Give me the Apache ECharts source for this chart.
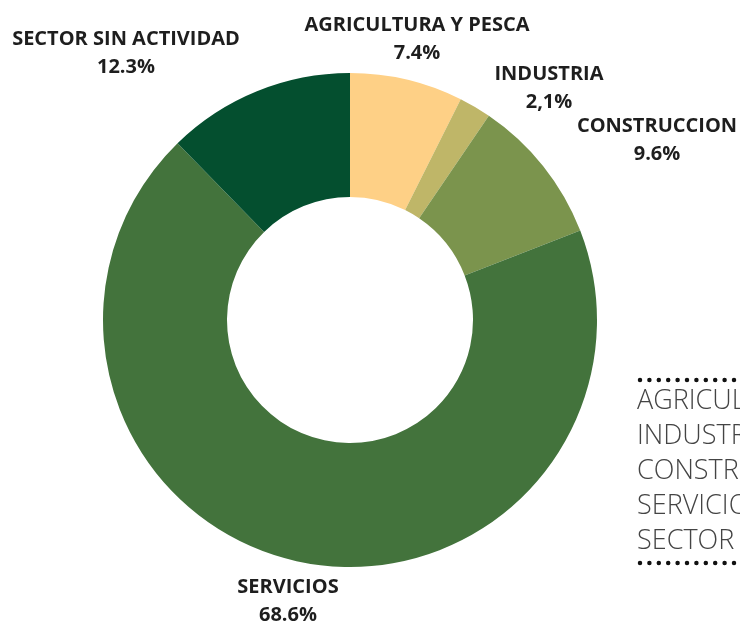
<!DOCTYPE html>
<html>
<head>
<meta charset="utf-8">
<script src="https://cdn.jsdelivr.net/npm/echarts@6/dist/echarts.min.js"></script>
<style>
  html, body { margin: 0; padding: 0; background: #fff; }
  #chart { width: 740px; height: 622px; }
</style>
</head>
<body>
<div id="chart"></div>
<script>
var sectors = ['AGRICULTURA Y PESCA', 'INDUSTRIA', 'CONSTRUCCION', 'SERVICIOS', 'SECTOR SIN ACTIVIDAD'];
var shares = [7.4, 2.1, 9.6, 68.6, 12.3];
var shareLabels = ['7.4%', '2,1%', '9.6%', '68.6%', '12.3%'];
var colors = ['#fed086', '#bfb668', '#7b944d', '#43733c', '#044f2f'];

// where each label block sits (centre, px) - placed by hand in the original
var labelSpots = [[417, 39], [549, 88], [657, 140], [288, 601], [126, 53]];

var myChart = echarts.init(document.getElementById('chart'));

var data = sectors.map(function (name, i) {
    return { name: name, value: shares[i], itemStyle: { color: colors[i] } };
});

myChart.setOption({
    animation: false,
    legend: {
        orient: 'vertical',
        left: 627,
        top: 383,
        icon: 'none',
        itemWidth: 0,
        itemHeight: 27,
        itemGap: 8,
        selectedMode: false,
        textStyle: {
            fontFamily: 'Open Sans',
            fontWeight: 300,
            fontSize: 27,
            lineHeight: 27,
            color: '#444'
        },
        data: sectors
    },
    graphic: [
        {
            type: 'line',
            shape: { x1: 640, y1: 380, x2: 745, y2: 380 },
            style: { stroke: '#111', lineWidth: 4.5, lineCap: 'round', lineDash: [0, 9.4] }
        },
        {
            type: 'line',
            shape: { x1: 640, y1: 563, x2: 745, y2: 563 },
            style: { stroke: '#111', lineWidth: 4.5, lineCap: 'round', lineDash: [0, 9.4] }
        }
    ],
    series: [{
        type: 'pie',
        center: [350, 320],
        radius: [123, 247],
        startAngle: 90,
        clockwise: true,
        avoidLabelOverlap: false,
        emphasis: { disabled: true },
        label: {
            show: true,
            position: 'outside',
            fontFamily: 'Open Sans',
            fontWeight: 'bold',
            fontSize: 20,
            lineHeight: 28,
            color: '#1e1e1e',
            align: 'center',
            formatter: function (p) {
                return p.name + '\n' + shareLabels[p.dataIndex];
            }
        },
        labelLine: { show: false },
        labelLayout: function (p) {
            var s = labelSpots[p.dataIndex];
            return { x: s[0], y: s[1], align: 'center', verticalAlign: 'middle' };
        },
        data: data
    }]
});
</script>
</body>
</html>
